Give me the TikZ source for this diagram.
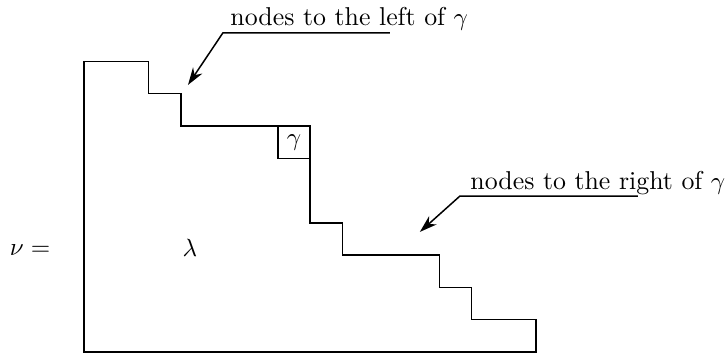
\documentclass[tikz,border=0pt]{standalone}
\usetikzlibrary{arrows.meta}
\begin{document}
\begin{tikzpicture}[
    x=0.455cm, y=0.455cm,
    diagram/.style={semithick, line join=miter},
    pointer/.style={semithick, -{Stealth[length=7pt, width=4.5pt]}},
    every node/.style={inner sep=0pt, font=\fontsize{10.35}{12}\selectfont}
]

\useasboundingbox (-2.6,-0.03) rectangle (19.94,10.9);

% outline of nu
\draw[diagram] (0,0) -- (0,9) -- (2,9) -- (2,8) -- (3,8) -- (3,7)
    -- (7,7) -- (7,4) -- (8,4) -- (8,3) -- (11,3) -- (11,2)
    -- (12,2) -- (12,1) -- (14,1) -- (14,0) -- cycle;

% the box gamma
\draw[diagram] (6,7) -- (6,6) -- (7,6);
\node (gam) at (6.5,6.5) {$\gamma$};

\node (nu) at (-1.67,3.16) {$\nu =$};
\node (lam) at (3.28,3.22) {$\lambda$};

% left label
\node[anchor=base west] (leftlbl) at (4.52,10.1) {nodes to the left of $\gamma$};
\coordinate (L0) at (9.47,9.88);
\coordinate (L1) at (4.30,9.88);
\coordinate (Ltip) at (3.22,8.27);
\draw[pointer] (L0) -- (L1) -- (Ltip);

% right label
\node[anchor=base west] (rightlbl) at (11.95,5.02) {nodes to the right of $\gamma$};
\coordinate (R0) at (17.15,4.83);
\coordinate (R1) at (11.64,4.83);
\coordinate (Rtip) at (10.40,3.72);
\draw[pointer] (R0) -- (R1) -- (Rtip);
\end{tikzpicture}
\end{document}
